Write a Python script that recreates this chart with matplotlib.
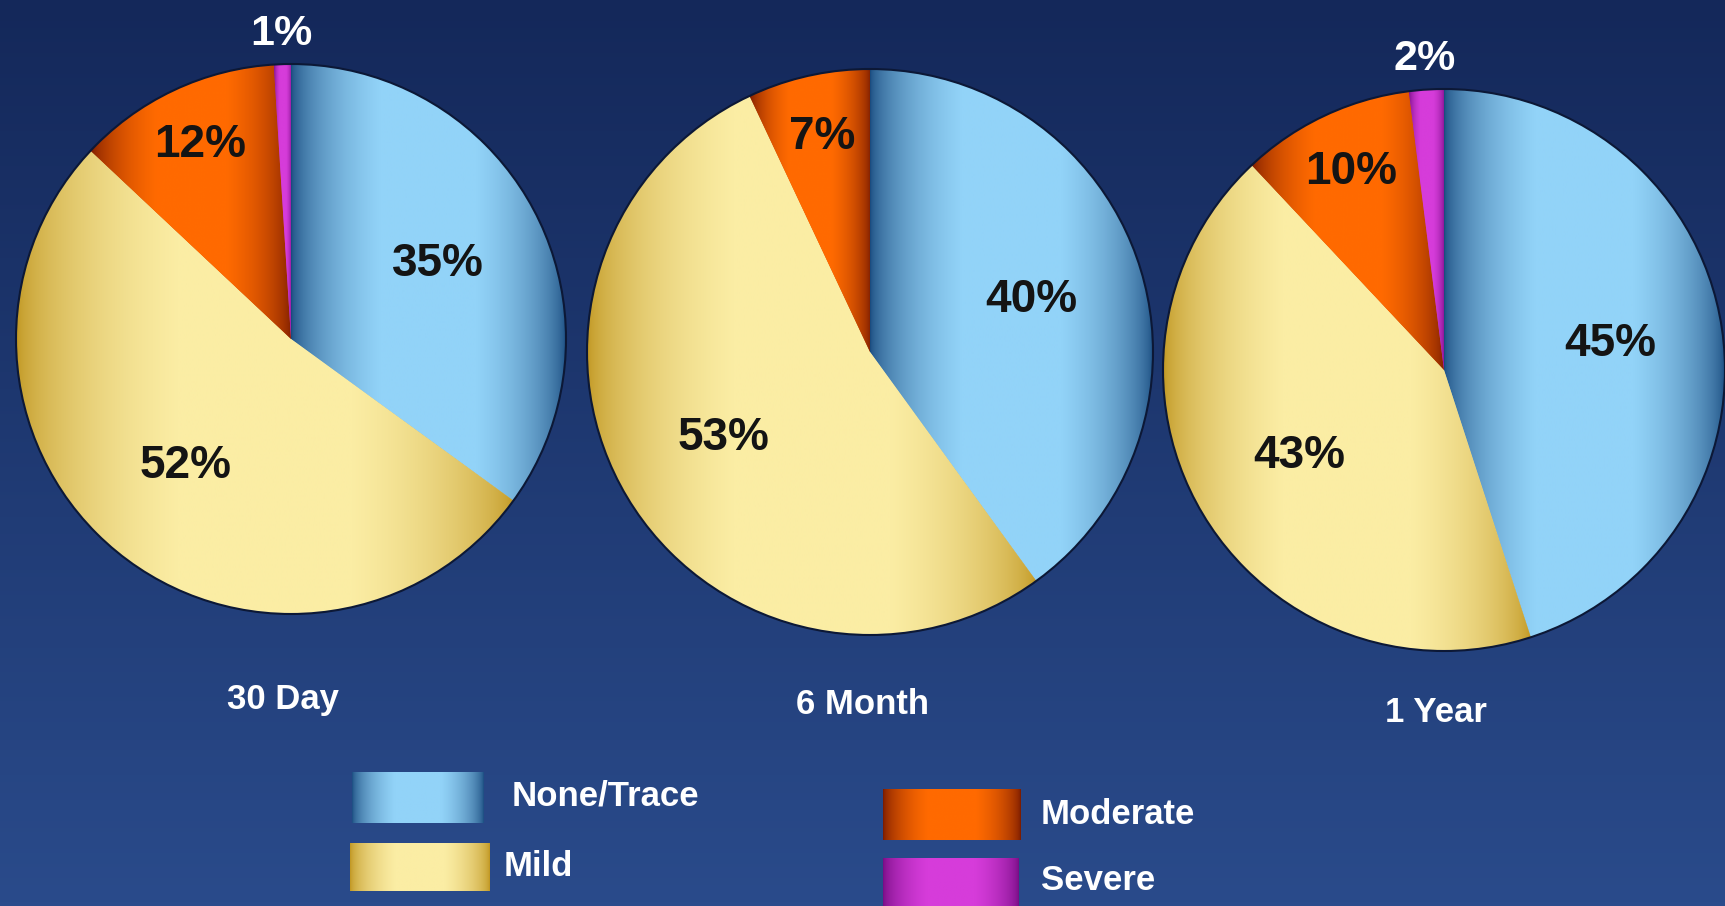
import numpy as np
import matplotlib.pyplot as plt
from matplotlib.colors import to_rgb
from matplotlib.patches import Rectangle, Circle

# Data (percent of patients)
periods = ['30 Day', '6 Month', '1 Year']
categories = ['None/Trace', 'Mild', 'Moderate', 'Severe']
none_trace = [35, 40, 45]
mild = [52, 53, 43]
moderate = [12, 7, 10]
severe = [1, 0, 2]

# dark / light colour of each shaded slice
shades = {
    'None/Trace': ('#1a4c80', '#92d3f8'),
    'Mild': ('#c09620', '#fbeda4'),
    'Moderate': ('#781a00', '#ff6a00'),
    'Severe': ('#760c84', '#d63cda'),
}

W, H = 1725, 906
plt.rcParams['font.family'] = ['Liberation Sans', 'DejaVu Sans']
fig = plt.figure(figsize=(W / 100, H / 100), dpi=100)
ax = fig.add_axes([0, 0, 1, 1])

# background: navy, darker at the top
t = np.linspace(0, 1, 256)[:, None, None]
top, bot = np.array(to_rgb('#14285a')), np.array(to_rgb('#2a4b8b'))
ax.imshow(top + (bot - top) * t, extent=[0, W, 0, H], aspect='auto',
          origin='upper', zorder=0)


def gradient(dark, light, n=256):
    s = np.linspace(0, 1, n)
    k = np.clip(np.sin(np.pi * s) ** 0.6 * 1.1, 0, 1)
    d, l = np.array(to_rgb(dark)), np.array(to_rgb(light))
    return (d + (l - d) * k[:, None])[None, :, :]


def fill_gradient(patch, dark, light, z=2):
    b = patch.get_path().get_extents(patch.get_patch_transform())
    im = ax.imshow(gradient(dark, light), extent=[b.x0, b.x1, b.y0, b.y1],
                   aspect='auto', interpolation='bilinear', zorder=z)
    im.set_clip_path(patch)


# pie placement (pixels, y up)
centers = [(291, 567), (870, 554), (1444, 536)]
radii = [275, 283, 281]
title_y = [206, 202, 193]

for i, period in enumerate(periods):
    vals = [none_trace[i], mild[i], moderate[i], severe[i]]
    cx, cy = centers[i]
    r = radii[i]
    wedges, _ = ax.pie(vals, colors=[shades[c][1] for c in categories],
                       startangle=90, counterclock=False, center=(cx, cy),
                       radius=r, frame=True, wedgeprops=dict(linewidth=0))
    for w, v, c in zip(wedges, vals, categories):
        if v == 0:
            w.set_visible(False)
            continue
        fill_gradient(w, *shades[c])
        mid = np.deg2rad((w.theta1 + w.theta2) / 2)
        if c == 'Severe':
            ax.text(cx + 1.11 * r * np.cos(mid), cy + 1.11 * r * np.sin(mid),
                    f'{v}%', color='white', fontsize=31, fontweight='bold',
                    ha='center', va='center', zorder=5)
        else:
            d = 0.6 if v >= 20 else 0.78
            ax.text(cx + d * r * np.cos(mid), cy + d * r * np.sin(mid),
                    f'{v}%', color='#141414', fontsize=33, fontweight='bold',
                    ha='center', va='center', zorder=5)
    ax.add_patch(Circle((cx, cy), r, fill=False, edgecolor='#0c1836',
                        linewidth=1.5, zorder=4))
    ax.text(cx - 8, title_y[i], period, color='white', fontsize=25,
            fontweight='bold', ha='center', va='center')

# legend
boxes = [(352, 83, 132, 51), (350, 15, 140, 48), (883, 66, 138, 51), (883, 0, 136, 48)]
text_xy = [(512, 110), (504, 40), (1041, 92), (1041, 25)]
for c, (x, y, w, h), (tx, ty) in zip(categories, boxes, text_xy):
    rect = Rectangle((x, y), w, h, facecolor=shades[c][1], linewidth=0, zorder=1)
    ax.add_patch(rect)
    fill_gradient(rect, *shades[c])
    ax.text(tx, ty, c, color='white', fontsize=25, fontweight='bold',
            ha='left', va='center')

ax.set_xlim(0, W)
ax.set_ylim(0, H)
ax.set_aspect('auto')
ax.axis('off')
fig.savefig('out.png', dpi=100)
